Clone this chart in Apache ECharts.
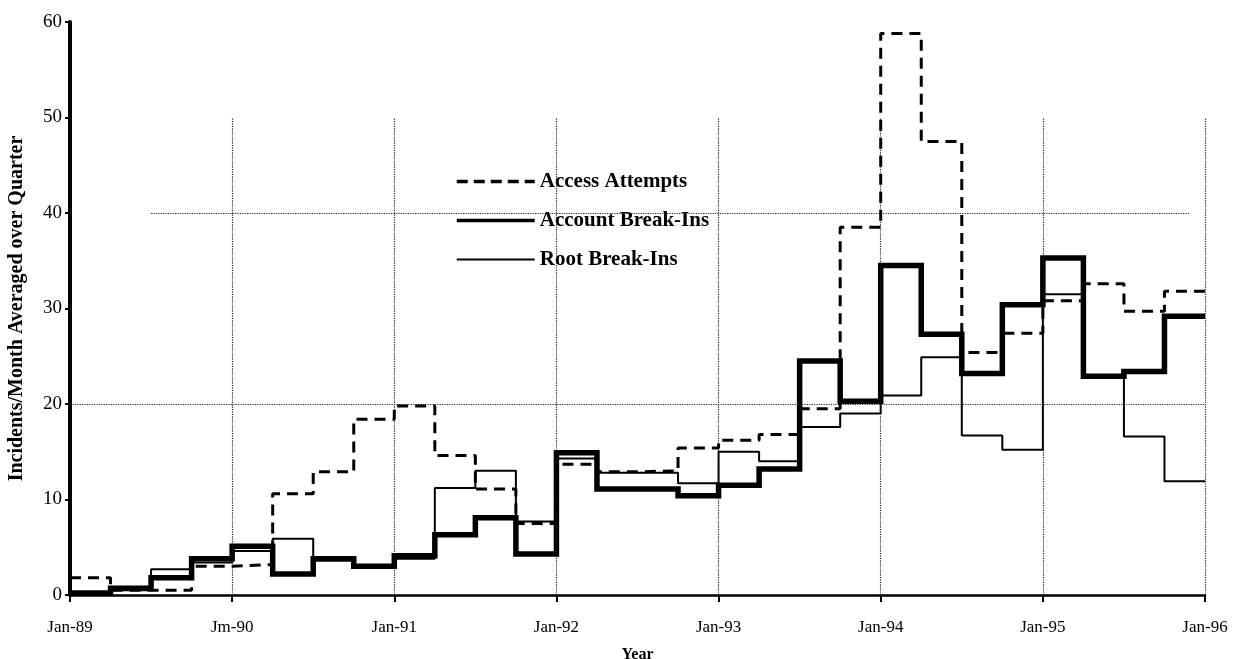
<!DOCTYPE html>
<html>
<head>
<meta charset="utf-8">
<script src="https://cdn.jsdelivr.net/npm/echarts@6/dist/echarts.min.js"></script>
<style>
html,body{margin:0;padding:0;background:#fff;}
#chart{width:1234px;height:659px;}
</style>
</head>
<body>
<div id="chart"></div>
<script>
// Quarter index 0 = Q1 1989 ... 27 = Q4 1995
var tickLabels = ['Jan-89', 'Jm-90', 'Jan-91', 'Jan-92', 'Jan-93', 'Jan-94', 'Jan-95', 'Jan-96'];
var yTicks = [0, 10, 20, 30, 40, 50, 60];
var accessAttempts = [1.8, 0.5, 0.5, 3.0, 3.2, 10.6, 12.9, 18.4, 19.8, 14.6, 11.1, 7.5, 13.7, 12.9, 13.0, 15.4, 16.2, 16.8, 19.5, 38.5, 58.8, 47.5, 25.4, 27.4, 30.8, 32.6, 29.7, 31.8];
var accountBreakIns = [0.2, 0.7, 1.8, 3.8, 5.1, 2.2, 3.8, 3.0, 4.1, 6.3, 8.1, 4.3, 14.9, 11.1, 11.1, 10.4, 11.5, 13.2, 24.5, 20.3, 34.5, 27.3, 23.2, 30.4, 35.3, 22.9, 23.4, 29.2];
var rootBreakIns = [0.1, 0.5, 2.7, 3.4, 4.6, 5.9, 3.6, 3.0, 3.8, 11.2, 13.0, 7.7, 14.3, 12.8, 12.8, 11.7, 15.0, 14.0, 17.6, 19.0, 20.9, 24.9, 16.7, 15.2, 31.5, 22.9, 16.6, 11.9];
var hGridValues = [20, 40];

function toSteps(arr) {
  var out = arr.map(function (v, i) { return [i, v]; });
  out.push([arr.length, arr[arr.length - 1]]);
  return out;
}

var serif = '"Liberation Serif", "DejaVu Serif", serif';
var vLines = [];
for (var k = 1; k < tickLabels.length; k++) {
  vLines.push([{ coord: [k * 4, 0] }, { coord: [k * 4, 50] }]);
}
var hLines = [
  [{ coord: [0, hGridValues[0]] }, { coord: [28, hGridValues[0]] }],
  [{ coord: [2, hGridValues[1]] }, { coord: [27.6, hGridValues[1]] }]
];

var chart = echarts.init(document.getElementById('chart'));
chart.setOption({
  animation: false,
  backgroundColor: '#fff',
  grid: { left: 70, right: 29, top: 22, bottom: 64, containLabel: false, outerBoundsMode: 'none' },
  legend: {
    data: [
      { name: 'Access Attempts', lineStyle: { width: 3.5, type: [11, 6] } },
      { name: 'Account Break-Ins', lineStyle: { width: 3.5 } },
      { name: 'Root Break-Ins', lineStyle: { width: 2 } }
    ],
    orient: 'vertical',
    left: 450,
    top: 166,
    itemGap: 18,
    itemWidth: 78,
    itemHeight: 14,
    itemStyle: { opacity: 0 },
    textStyle: { fontFamily: serif, fontWeight: 'bold', fontSize: 21, color: '#000' }
  },
  xAxis: {
    type: 'value',
    min: 0, max: 28, interval: 4,
    axisLine: { show: true, lineStyle: { color: '#000', width: 2.5 } },
    axisTick: { show: true, length: 7, lineStyle: { color: '#000', width: 2 } },
    axisLabel: {
      margin: 24,
      fontFamily: serif, fontSize: 17, color: '#000',
      formatter: function (v) { return tickLabels[Math.round(v / 4)] || ''; }
    },
    splitLine: { show: false },
    name: 'Year',
    nameLocation: 'middle',
    nameGap: 52,
    nameTextStyle: { fontFamily: serif, fontWeight: 'bold', fontSize: 16, color: '#000' }
  },
  yAxis: {
    type: 'value',
    min: yTicks[0], max: yTicks[yTicks.length - 1], interval: 10,
    axisLine: { show: true, lineStyle: { color: '#000', width: 4 } },
    axisTick: { show: true, length: 5, lineStyle: { color: '#000', width: 2 } },
    axisLabel: { margin: 8, fontFamily: serif, fontSize: 19, color: '#000' },
    splitLine: { show: false },
    name: 'Incidents/Month Averaged over Quarter',
    nameLocation: 'middle',
    nameGap: 43,
    nameTextStyle: { fontFamily: serif, fontWeight: 'bold', fontSize: 20, color: '#000' }
  },
  series: [
    {
      name: 'grid',
      type: 'line',
      data: [],
      silent: true,
      markLine: {
        silent: true, symbol: 'none', label: { show: false },
        lineStyle: { type: 'dotted', color: '#222', width: 1.2 },
        data: vLines.concat(hLines)
      }
    },
    {
      name: 'Account Break-Ins',
      type: 'line',
      step: 'end',
      symbol: 'none',
      data: toSteps(accountBreakIns),
      lineStyle: { color: '#000', width: 5.5, join: 'miter' },
      itemStyle: { color: '#000' },
      z: 3
    },
    {
      name: 'Root Break-Ins',
      type: 'line',
      step: 'end',
      symbol: 'none',
      data: toSteps(rootBreakIns),
      lineStyle: { color: '#000', width: 2 },
      itemStyle: { color: '#000' },
      z: 4
    },
    {
      name: 'Access Attempts',
      type: 'line',
      step: 'end',
      symbol: 'none',
      data: toSteps(accessAttempts),
      lineStyle: { color: '#000', width: 3, type: [11, 7] },
      itemStyle: { color: '#000' },
      z: 5
    }
  ]
});
</script>
</body>
</html>
